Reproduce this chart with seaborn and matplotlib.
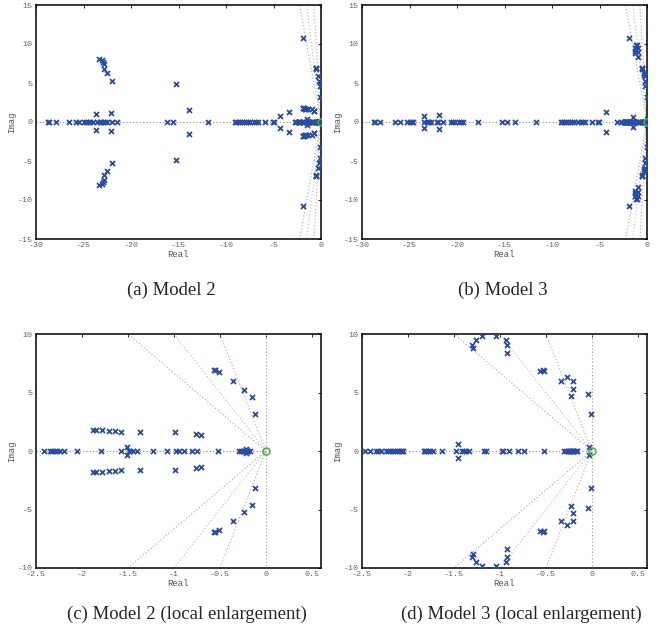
import numpy as np
import pandas as pd
import matplotlib
matplotlib.use("Agg")
import matplotlib.pyplot as plt
import seaborn as sns

# poles: real poles, and complex poles (upper half, conjugates mirrored)
m2_real = [-28.7, -28.6, -27.9, -26.5, -25.75, -25.5, -24.9, -24.7, -24.5, -24.3, -24.05,
           -23.6, -23.3, -23.15, -22.9, -22.7, -22.5, -22.05, -21.5, -16.26, -15.63, -11.87,
           -9.1, -8.9, -8.7, -8.5, -8.3, -8.1, -7.9, -7.7, -7.5, -7.1, -6.8, -6.6, -5.94,
           -5.06, -5.0, -2.77, -2.6,
           -2.41, -2.35, -2.33, -2.29, -2.27, -2.24, -2.19, -2.05, -1.79, -1.57, -1.49,
           -1.475, -1.446, -1.40, -1.23, -1.08, -0.977, -0.948, -0.89, -0.80, -0.75, -0.523,
           -0.29, -0.27, -0.25, -0.24, -0.23, -0.22, -0.21, -0.20, -0.19, -0.17]
m2_cplx_re = [-23.36, -23.08, -22.94, -22.87, -22.8, -22.55, -21.95, -23.64, -22.13, -15.31,
              -13.91, -4.32, -3.37, -1.93,
              -0.567, -0.552, -0.512, -0.36, -0.233, -0.149, -0.113, -1.875, -1.85, -1.78,
              -1.71, -1.64, -1.58, -1.374, -0.992, -0.76, -0.70, -1.515, -0.215]
m2_cplx_im = [8.11, 7.94, 7.68, 7.43, 6.79, 6.23, 5.25, 1.02, 1.15, 4.92,
              1.56, 0.79, 1.33, 10.74,
              6.89, 6.95, 6.78, 5.95, 5.24, 4.64, 3.16, 1.79, 1.77, 1.79,
              1.71, 1.68, 1.65, 1.62, 1.62, 1.45, 1.40, 0.34, 0.15]

m3_real = [-28.7, -28.6, -28.07, -26.5, -26.0, -25.26, -24.95, -24.7, -24.6, -23.44, -23.2,
           -23.05, -22.9, -22.7, -22.14, -21.96, -21.47, -20.6, -20.4, -20.2, -19.8, -19.6,
           -19.4, -17.75, -15.26, -14.77, -13.86, -11.68, -9.1, -8.9, -8.7, -8.5, -8.3, -8.1,
           -7.9, -7.7, -7.3, -6.9, -6.7, -6.5, -5.79, -5.16, -5.05, -3.19, -2.7,
           -2.47, -2.41, -2.35, -2.33, -2.29, -2.24, -2.22, -2.20, -2.16, -2.14, -2.12, -2.10,
           -2.08, -2.07, -2.05, -1.83, -1.815, -1.80, -1.78, -1.76, -1.73, -1.63, -1.48,
           -1.41, -1.39, -1.37, -1.34, -1.17, -1.15, -0.98, -0.97, -0.90, -0.80, -0.74,
           -0.52, -0.30, -0.28, -0.26, -0.25, -0.24, -0.23, -0.22, -0.21, -0.20, -0.19,
           -0.17, -0.16]
m3_cplx_re = [-23.47, -21.89, -4.32, -1.93, -1.46,
              -1.30, -1.293, -1.257, -1.196, -1.04, -0.938, -0.928, -0.928, -0.562, -0.536,
              -0.525, -0.34, -0.272, -0.207, -0.207, -0.232, -0.043, -0.011, -0.029]
m3_cplx_im = [0.72, 0.9, 1.28, 10.76, 0.6,
              9.09, 8.80, 9.46, 9.83, 9.83, 9.46, 9.03, 8.35, 6.87, 6.89,
              6.81, 5.98, 6.32, 5.95, 5.27, 4.67, 4.9, 3.16, 0.38]

damping_slopes = [0.15, 0.10, 0.05]   # Re = -k*Im
damping_colors = ["#9aa3e6", "#98d498", "#f09090"]

captions = ["(a) Model 2", "(b) Model 3",
            "(c) Model 2 (local enlargement)", "(d) Model 3 (local enlargement)"]


def pole_frame(real, cre, cim):
    re = list(real) + list(cre) + list(cre)
    im = [0.0] * len(real) + list(cim) + [-v for v in cim]
    return pd.DataFrame({"Real": re, "Imag": im})


sns.set_style("white")
plt.rcParams["axes.unicode_minus"] = False

fig = plt.figure(figsize=(6.6, 6.28), dpi=100)
W, H = 660.0, 628.0
boxes = [(36, 5, 285, 234), (362, 5, 285, 234), (36, 334, 285, 234), (362, 334, 285, 234)]
frames = [pole_frame(m2_real, m2_cplx_re, m2_cplx_im), pole_frame(m3_real, m3_cplx_re, m3_cplx_im)]
cap_x = [171, 503, 187, 521]
cap_y = [290, 290, 614, 614]

for i, (l, t, w, h) in enumerate(boxes):
    ax = fig.add_axes([l / W, 1 - (t + h) / H, w / W, h / H])
    df = frames[i % 2]
    zoomed = i >= 2
    if zoomed:
        xlim, ylim = (-2.5, 0.6), (-10, 10)
        xt, yt = np.arange(-2.5, 0.51, 0.5), [-10, -5, 0, 5, 10]
        xtl = ["-2.5", "-2", "-1.5", "-1", "-0.5", "0", "0.5"]
    else:
        xlim, ylim = (-30, 0), (-15, 15)
        xt, yt = np.arange(-30, 1, 5), np.arange(-15, 16, 5)
        xtl = [str(int(v)) for v in xt]

    # damping lines
    big = 100
    for k, c in zip(damping_slopes, damping_colors):
        ax.plot([-k * big, 0, -k * big], [big, 0, -big], ls=(0, (1, 2)), lw=0.8, color=c, zorder=1)
    ax.plot([xlim[0], 0], [0, 0], ls=(0, (1, 2)), lw=0.8, color="#888888", zorder=1)
    ax.plot([0, 0], [-big, big], ls=(0, (1, 2)), lw=0.8, color="#999999", zorder=1)

    sns.scatterplot(data=df, x="Real", y="Imag", marker="x", s=13, linewidth=1.3,
                    color="#2a4ba6", ax=ax, zorder=3)
    ax.plot([0], [0], marker="o", ms=5, mfc="none", mec="#3cb43c", mew=1.1, zorder=4)

    ax.set_xlim(xlim)
    ax.set_ylim(ylim)
    ax.set_xticks(xt)
    ax.set_xticklabels(xtl)
    ax.set_yticks(yt)
    ax.set_yticklabels([str(int(v)) for v in yt])
    ax.tick_params(direction="in", top=True, right=True, length=2.5, width=0.7,
                   labelsize=6, labelcolor="#666666", pad=2.5)
    for lab in ax.get_xticklabels() + ax.get_yticklabels():
        lab.set_family("Liberation Mono")
    ax.set_xlabel("Real", family="Liberation Mono", fontsize=6.5, color="#555555", labelpad=0.5)
    ax.set_ylabel("Imag", family="Liberation Mono", fontsize=6.5, color="#555555", labelpad=1)
    for sp in ax.spines.values():
        sp.set_color("black")
        sp.set_linewidth(1.1)

    fig.text(cap_x[i] / W, 1 - cap_y[i] / H, captions[i], ha="center", va="center",
             family="Liberation Serif", fontsize=13.5)

fig.savefig("out.png", dpi=100)
